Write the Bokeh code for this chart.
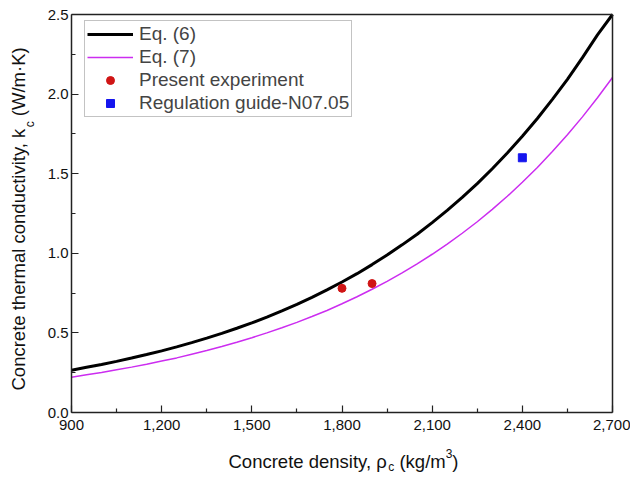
import math
from bokeh.plotting import figure
from bokeh.models import Range1d, FixedTicker, NumeralTickFormatter, Label, LinearAxis
from bokeh.embed import file_html
from bokeh.resources import INLINE

# ---- data ----
density = [900, 950, 1000, 1050, 1100, 1150, 1200, 1250, 1300, 1350,
           1400, 1450, 1500, 1550, 1600, 1650, 1700, 1750, 1800, 1850,
           1900, 1950, 2000, 2050, 2100, 2150, 2200, 2250, 2300, 2350,
           2400, 2450, 2500, 2550, 2600, 2650, 2700]
k_eq6 = [0.266, 0.284, 0.302, 0.321, 0.342, 0.364, 0.387, 0.412, 0.439, 0.467,
         0.497, 0.529, 0.563, 0.599, 0.638, 0.679, 0.723, 0.770, 0.820, 0.872,
         0.929, 0.989, 1.053, 1.120, 1.193, 1.270, 1.351, 1.438, 1.531, 1.630,
         1.735, 1.847, 1.967, 2.093, 2.229, 2.372, 2.500]
k_eq7 = [0.222, 0.237, 0.251, 0.268, 0.285, 0.303, 0.323, 0.343, 0.366, 0.389,
         0.414, 0.441, 0.470, 0.500, 0.532, 0.566, 0.603, 0.641, 0.683, 0.727,
         0.774, 0.824, 0.877, 0.934, 0.994, 1.058, 1.126, 1.198, 1.276, 1.358,
         1.446, 1.539, 1.639, 1.745, 1.857, 1.977, 2.104]
exp_density = [1800, 1900]
exp_k = [0.78, 0.81]
guide_density = [2400]
guide_k = [1.60]

x_ticks = [900, 1200, 1500, 1800, 2100, 2400, 2700]
x_minor = [1050, 1350, 1650, 1950, 2250, 2550]
y_ticks = [0.0, 0.5, 1.0, 1.5, 2.0, 2.5]
y_minor = [0.25, 0.75, 1.25, 1.75, 2.25]

FONT = "Liberation Sans"
W, H = 630, 477
# pixel box of the plotting area in the reference
FL, FR, FT, FB = 71, 612, 14, 412
X0, X1, Y0, Y1 = 900, 2700, 0.0, 2.5


def dx(px):
    return X0 + (px - FL) * (X1 - X0) / (FR - FL)


def dy(py):
    return Y0 + (FB - py) * (Y1 - Y0) / (FB - FT)


# the figure frame covers the whole canvas; the axes sit at the data box edges
p = figure(width=W, height=H, output_backend="svg", toolbar_location=None,
           x_range=Range1d(dx(0), dx(W)), y_range=Range1d(dy(H), dy(0)),
           x_axis_type=None, y_axis_type=None, min_border=0)
p.grid.visible = False
p.outline_line_color = None
p.background_fill_color = "white"
p.border_fill_color = "white"

LC = "#222222"


def style_axis(ax, labels=True, ticks=True):
    ax.axis_line_color = LC
    ax.axis_line_width = 1.5
    ax.major_tick_line_color = LC if ticks else None
    ax.minor_tick_line_color = LC if ticks else None
    ax.major_tick_line_width = 1.2
    ax.minor_tick_line_width = 1.2
    ax.major_tick_in = 7
    ax.major_tick_out = 0
    ax.minor_tick_in = 4
    ax.minor_tick_out = 0
    ax.major_label_text_font = FONT
    ax.major_label_text_font_size = "15px"
    ax.major_label_text_color = "#111111" if labels else None


xax = LinearAxis(fixed_location=Y0, bounds=(X0, X1),
                 ticker=FixedTicker(ticks=x_ticks, minor_ticks=x_minor),
                 formatter=NumeralTickFormatter(format="0,0"))
style_axis(xax)
xax.major_label_standoff = 7
p.add_layout(xax, "below")

yax = LinearAxis(fixed_location=X0, bounds=(Y0, Y1),
                 ticker=FixedTicker(ticks=y_ticks, minor_ticks=y_minor),
                 formatter=NumeralTickFormatter(format="0.0"))
style_axis(yax)
yax.major_label_standoff = 3
p.add_layout(yax, "left")

tax = LinearAxis(fixed_location=Y1, bounds=(X0, X1), ticker=FixedTicker(ticks=[]))
style_axis(tax, labels=False, ticks=False)
p.add_layout(tax, "above")

rax = LinearAxis(fixed_location=X1, bounds=(Y0, Y1), ticker=FixedTicker(ticks=[]))
style_axis(rax, labels=False, ticks=False)
p.add_layout(rax, "right")

p.line(density, k_eq6, line_color="black", line_width=3, legend_label="Eq. (6)")
p.line(density, k_eq7, line_color="#CC2DF0", line_width=1.5, legend_label="Eq. (7)")
p.scatter(exp_density, exp_k, marker="circle", size=8, fill_color="#D01515",
          line_color="#D01515", legend_label="Present experiment")
p.scatter(guide_density, guide_k, marker="square", size=8, fill_color="#1515EE",
          line_color="#1515EE", legend_label="Regulation guide-N07.05")

lg = p.legend[0]
lg.location = (84, 477 - 19 - 98)
lg.border_line_color = "#888888"
lg.border_line_width = 1
lg.background_fill_alpha = 1
lg.label_text_font = FONT
lg.label_text_font_size = "19px"
lg.glyph_width = 46
lg.glyph_height = 20
lg.label_height = 20
lg.label_standoff = 6
lg.padding = 2
lg.spacing = 1
lg.margin = 0

SHIFT = 7  # baseline correction for rendered labels


def add_label(text, px, py, size, angle=0.0):
    p.add_layout(Label(x=dx(px), y=dy(py), text=text, angle=angle,
                       text_font=FONT, text_font_size=size, text_color="#111111",
                       text_align="left", text_baseline="alphabetic"))


AX = 18.5
SP = 0.278 * AX
# x-axis title: Concrete density, ρ_c (kg/m^3)
xb = 468 - SHIFT
xs = 228
add_label("Concrete density, \u03c1", xs, xb, f"{AX}px")
xs += 8.637 * AX
add_label("c", xs, xb + 5, "12px")
xs += 0.5 * 12 + SP
add_label("(kg/m", xs, xb, f"{AX}px")
xs += 2.5 * AX
add_label("3", xs, xb - 8, "12px")
xs += 0.556 * 12
add_label(")", xs, xb, f"{AX}px")

# y-axis title: Concrete thermal conductivity, k_c (W/m·K)
yb = 25 - SHIFT
ys = 390
rot = math.pi / 2
add_label("Concrete thermal conductivity, k", yb, ys, f"{AX}px", rot)
ys -= 14.227 * AX
add_label("c", yb + 11, ys, "12px", rot)
ys -= 0.5 * 12 + SP
add_label("(W/m\u00b7K)", yb, ys, f"{AX}px", rot)

open("out.html", "w").write(file_html(p, INLINE))
